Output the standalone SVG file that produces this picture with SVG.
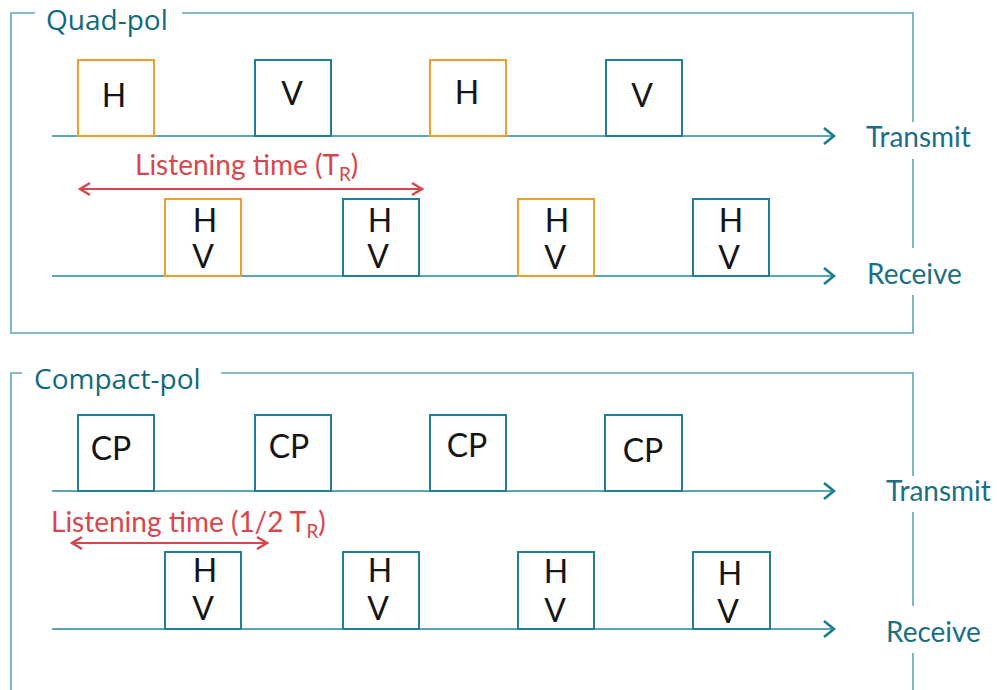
<svg xmlns="http://www.w3.org/2000/svg" width="997" height="690" viewBox="0 0 997 690">
  <defs>
    <marker id="chev" viewBox="0 0 14 20" refX="13" refY="10" markerWidth="14" markerHeight="20" markerUnits="userSpaceOnUse" orient="auto">
      <path d="M2,2 L12,10 L2,18" fill="none" stroke="#1C7A93" stroke-width="2.6"/>
    </marker>
    <marker id="redhead" viewBox="0 0 14 16" refX="12" refY="8" markerWidth="14" markerHeight="16" markerUnits="userSpaceOnUse" orient="auto-start-reverse">
      <path d="M2,2 L12,8 L2,14" fill="none" stroke="#D9454C" stroke-width="2.4"/>
    </marker>
    <style>
      .frame { fill: none; stroke: #5BA7B9; stroke-width: 1.6; }
      .title { font-family: "Open Sans", "Noto Sans", sans-serif; font-size: 28px; fill: #0F6A80; }
      .axis { fill: none; stroke: #5AA4B7; stroke-width: 2; }
      .ax-label { font-family: Lato, "Liberation Sans", sans-serif; font-size: 28px; fill: #1A6F86; }
      .box-t { fill: #fff; stroke: #1F7F9A; stroke-width: 2; }
      .box-o { fill: #fff; stroke: #EBA02D; stroke-width: 2; }
      .glyph { font-family: Lato, "Liberation Sans", sans-serif; font-size: 32px; fill: #151515; text-anchor: middle; }
      .span { fill: none; stroke: #D9454C; stroke-width: 1.8; }
      .span-label { font-family: Lato, "Liberation Sans", sans-serif; font-size: 28px; fill: #D9454C; }
    </style>
  </defs>

  <!-- outlines of the two panels -->
  <g id="frames">
    <path class="frame" d="M35,13 H11 V333 H913 V295 M913,248 V159 M913,122 V13 H182"/>
    <text class="title" x="46" y="30">Quad-pol</text>
    <path class="frame" d="M22,373 H11 V690 M221,373 H913 V476 M913,512 V606 M913,653 V690"/>
    <text class="title" x="34" y="389">Compact-pol</text>
  </g>

  <!-- time axes -->
  <g id="connectors">
    <line class="axis" x1="52" y1="136" x2="835" y2="136" marker-end="url(#chev)"/>
    <line class="axis" x1="52" y1="276" x2="835" y2="276" marker-end="url(#chev)"/>
    <line class="axis" x1="52" y1="491" x2="835" y2="491" marker-end="url(#chev)"/>
    <line class="axis" x1="52" y1="629" x2="835" y2="629" marker-end="url(#chev)"/>
    <line class="span" x1="80" y1="189" x2="422" y2="189" marker-start="url(#redhead)" marker-end="url(#redhead)"/>
    <line class="span" x1="72" y1="543" x2="267" y2="543" marker-start="url(#redhead)" marker-end="url(#redhead)"/>
  </g>

  <g id="axis-labels">
    <text class="ax-label" x="866" y="147">Transmit</text>
    <text class="ax-label" x="867" y="284">Receive</text>
    <text class="ax-label" x="886" y="501">Transmit</text>
    <text class="ax-label" x="886" y="642">Receive</text>
    <text class="span-label" x="135" y="175">Listening time (T<tspan font-size="19" dy="6">R</tspan><tspan dy="-6">)</tspan></text>
    <text class="span-label" x="51" y="532">Listening time (1/2 T<tspan font-size="19" dy="6">R</tspan><tspan dy="-6">)</tspan></text>
  </g>

  <!-- Quad-pol transmit pulses -->
  <g id="qp-tx1"><rect class="box-o" x="78" y="60" width="76" height="76"/><text class="glyph" x="114" y="107">H</text></g>
  <g id="qp-tx2"><rect class="box-t" x="255" y="60" width="76" height="76"/><text class="glyph" x="292" y="105">V</text></g>
  <g id="qp-tx3"><rect class="box-o" x="430" y="60" width="76" height="76"/><text class="glyph" x="467" y="104">H</text></g>
  <g id="qp-tx4"><rect class="box-t" x="606" y="60" width="76" height="76"/><text class="glyph" x="642" y="107">V</text></g>

  <!-- Quad-pol receive windows -->
  <g id="qp-rx1"><rect class="box-o" x="165" y="199" width="76" height="77"/><text class="glyph" x="205" y="232">H</text><text class="glyph" x="203" y="268">V</text></g>
  <g id="qp-rx2"><rect class="box-t" x="343" y="199" width="76" height="77"/><text class="glyph" x="380" y="232">H</text><text class="glyph" x="378" y="268">V</text></g>
  <g id="qp-rx3"><rect class="box-o" x="518" y="199" width="76" height="77"/><text class="glyph" x="557" y="232">H</text><text class="glyph" x="555" y="269">V</text></g>
  <g id="qp-rx4"><rect class="box-t" x="693" y="199" width="76" height="77"/><text class="glyph" x="731" y="232">H</text><text class="glyph" x="729" y="269">V</text></g>

  <!-- Compact-pol transmit pulses -->
  <g id="cp-tx1"><rect class="box-t" x="78" y="415" width="76" height="76"/><text class="glyph" x="111" y="460">CP</text></g>
  <g id="cp-tx2"><rect class="box-t" x="255" y="415" width="76" height="76"/><text class="glyph" x="289" y="458">CP</text></g>
  <g id="cp-tx3"><rect class="box-t" x="430" y="415" width="76" height="76"/><text class="glyph" x="467" y="457">CP</text></g>
  <g id="cp-tx4"><rect class="box-t" x="605" y="415" width="77" height="76"/><text class="glyph" x="643" y="462">CP</text></g>

  <!-- Compact-pol receive windows -->
  <g id="cp-rx1"><rect class="box-t" x="165" y="552" width="76" height="77"/><text class="glyph" x="205" y="582">H</text><text class="glyph" x="203" y="620">V</text></g>
  <g id="cp-rx2"><rect class="box-t" x="343" y="552" width="76" height="77"/><text class="glyph" x="380" y="582">H</text><text class="glyph" x="378" y="620">V</text></g>
  <g id="cp-rx3"><rect class="box-t" x="518" y="552" width="76" height="77"/><text class="glyph" x="556" y="583">H</text><text class="glyph" x="555" y="622">V</text></g>
  <g id="cp-rx4"><rect class="box-t" x="693" y="552" width="77" height="77"/><text class="glyph" x="730" y="585">H</text><text class="glyph" x="728" y="623">V</text></g>
</svg>
